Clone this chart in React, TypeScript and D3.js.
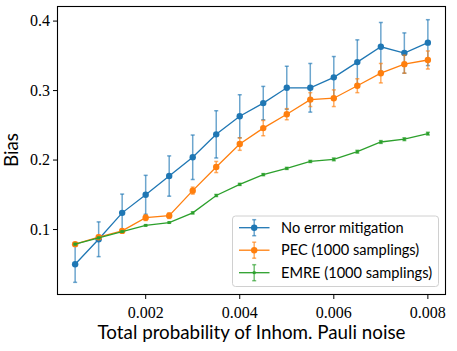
import React from "react";
import * as d3 from "d3";

const probs = [0.0005, 0.001, 0.0015, 0.002, 0.0025, 0.003, 0.0035, 0.004, 0.0045, 0.005, 0.0055, 0.006, 0.0065, 0.007, 0.0075, 0.008];
const noMitigation = [0.050, 0.086, 0.124, 0.150, 0.177, 0.204, 0.237, 0.263, 0.282, 0.304, 0.304, 0.319, 0.341, 0.363, 0.354, 0.369];
const noMitigationErr = [0.026, 0.025, 0.027, 0.028, 0.029, 0.032, 0.034, 0.031, 0.024, 0.031, 0.035, 0.030, 0.032, 0.035, 0.029, 0.033];
const pec = [0.079, 0.089, 0.098, 0.117, 0.120, 0.156, 0.190, 0.223, 0.246, 0.266, 0.287, 0.289, 0.307, 0.325, 0.338, 0.344];
const pecErr = [0.002, 0.003, 0.002, 0.004, 0.004, 0.005, 0.008, 0.009, 0.011, 0.008, 0.010, 0.012, 0.010, 0.014, 0.013, 0.013];
const emre = [0.079, 0.088, 0.097, 0.106, 0.110, 0.124, 0.149, 0.165, 0.179, 0.188, 0.198, 0.201, 0.212, 0.226, 0.230, 0.238];
const emreErr = [0.001, 0.001, 0.001, 0.001, 0.001, 0.0015, 0.0015, 0.0015, 0.0015, 0.0015, 0.0015, 0.002, 0.002, 0.002, 0.002, 0.002];

const xTicks = [0.002, 0.004, 0.006, 0.008];
const yTicks = [0.1, 0.2, 0.3, 0.4];
const seriesNames = ["No error mitigation", "PEC (1000 samplings)", "EMRE (1000 samplings)"];
const colors = ["#1f77b4", "#ff7f0e", "#2ca02c"];

const W = 457, H = 351;
const L = 57.5, R = 445.5, T = 6.5, B = 294.5;

export default function App() {
  const x = d3.scaleLinear().domain([0.000125, 0.008375]).range([L, R]);
  const y = d3.scaleLinear().domain([0.0065, 0.421]).range([B, T]);
  const line = d3.line<[number, number]>().x(d => x(d[0])).y(d => y(d[1]));

  const series = [
    { vals: noMitigation, errs: noMitigationErr, r: 3.2, sq: false },
    { vals: pec, errs: pecErr, r: 3.2, sq: false },
    { vals: emre, errs: emreErr, r: 1.4, sq: true },
  ];
  const serif = "'Liberation Serif', 'DejaVu Serif', serif";
  const sans = "Lato, 'DejaVu Sans', sans-serif";

  return (
    <svg width={W} height={H} style={{ position: "absolute", left: 0, top: 0, background: "#fff" }}>
      <rect x={0} y={0} width={W} height={H} fill="#fff" />
      {series.map((s, si) => {
        const pts = probs.map((p, i) => [p, s.vals[i]] as [number, number]);
        const c = colors[si];
        return (
          <g key={si}>
            {probs.map((p, i) => {
              const cx = x(p);
              const y1 = y(s.vals[i] + s.errs[i]);
              const y2 = y(s.vals[i] - s.errs[i]);
              return (
                <g key={i} stroke={c} strokeOpacity={0.65} strokeWidth={1.5}>
                  <line x1={cx} x2={cx} y1={y1} y2={y2} />
                  <line x1={cx - 2} x2={cx + 2} y1={y1} y2={y1} />
                  <line x1={cx - 2} x2={cx + 2} y1={y2} y2={y2} />
                </g>
              );
            })}
            <path d={line(pts) || ""} fill="none" stroke={c} strokeWidth={1.3} />
            {pts.map((d, i) =>
              s.sq ? (
                <rect key={i} x={x(d[0]) - s.r} y={y(d[1]) - s.r} width={2 * s.r} height={2 * s.r} fill={c} />
              ) : (
                <circle key={i} cx={x(d[0])} cy={y(d[1])} r={s.r} fill={c} />
              )
            )}
          </g>
        );
      })}
      {/* frame */}
      <rect x={L} y={T} width={R - L} height={B - T} fill="none" stroke="#000" strokeWidth={1.1} />
      {/* x ticks */}
      {xTicks.map(t => (
        <g key={t}>
          <line x1={x(t)} x2={x(t)} y1={B} y2={B + 4.5} stroke="#000" strokeWidth={1} />
          <text x={x(t)} y={317.5} textAnchor="middle" fontFamily={serif} fontSize={16} fill="#000">
            {t.toFixed(3)}
          </text>
        </g>
      ))}
      {yTicks.map(t => (
        <g key={t}>
          <line x1={L} x2={L - 4.5} y1={y(t)} y2={y(t)} stroke="#000" strokeWidth={1} />
          <text x={50} y={y(t)} dy="0.33em" textAnchor="end" fontFamily={serif} fontSize={16} fill="#000">
            {t.toFixed(1)}
          </text>
        </g>
      ))}
      <text x={251.5} y={338.5} textAnchor="middle" fontFamily={sans} fontSize={18.8} fill="#000">
        Total probability of Inhom. Pauli noise
      </text>
      <text transform="translate(18,150) rotate(-90)" textAnchor="middle" fontFamily={sans} fontSize={18.8} fill="#000">
        Bias
      </text>
      {/* legend */}
      <g>
        <rect x={232.5} y={216} width={206} height={70.5} rx={3} fill="#fff" fillOpacity={0.8} stroke="#d0d0d0" strokeWidth={1} />
        {seriesNames.map((n, i) => {
          const ly = 227.7 + i * 22.5;
          const c = colors[i];
          const s = series[i];
          return (
            <g key={n}>
              <line x1={239} x2={269.5} y1={ly} y2={ly} stroke={c} strokeWidth={1.3} />
              <g stroke={c} strokeOpacity={0.65} strokeWidth={1.5}>
                <line x1={254.2} x2={254.2} y1={ly - 8} y2={ly + 8} />
                <line x1={252.2} x2={256.2} y1={ly - 8} y2={ly - 8} />
                <line x1={252.2} x2={256.2} y1={ly + 8} y2={ly + 8} />
              </g>
              {s.sq ? (
                <rect x={254.2 - s.r} y={ly - s.r} width={2 * s.r} height={2 * s.r} fill={c} />
              ) : (
                <circle cx={254.2} cy={ly} r={s.r} fill={c} />
              )}
              <text x={281} y={ly} dy="0.35em" fontFamily={sans} fontSize={14.6} fill="#000">
                {n}
              </text>
            </g>
          );
        })}
      </g>
    </svg>
  );
}
